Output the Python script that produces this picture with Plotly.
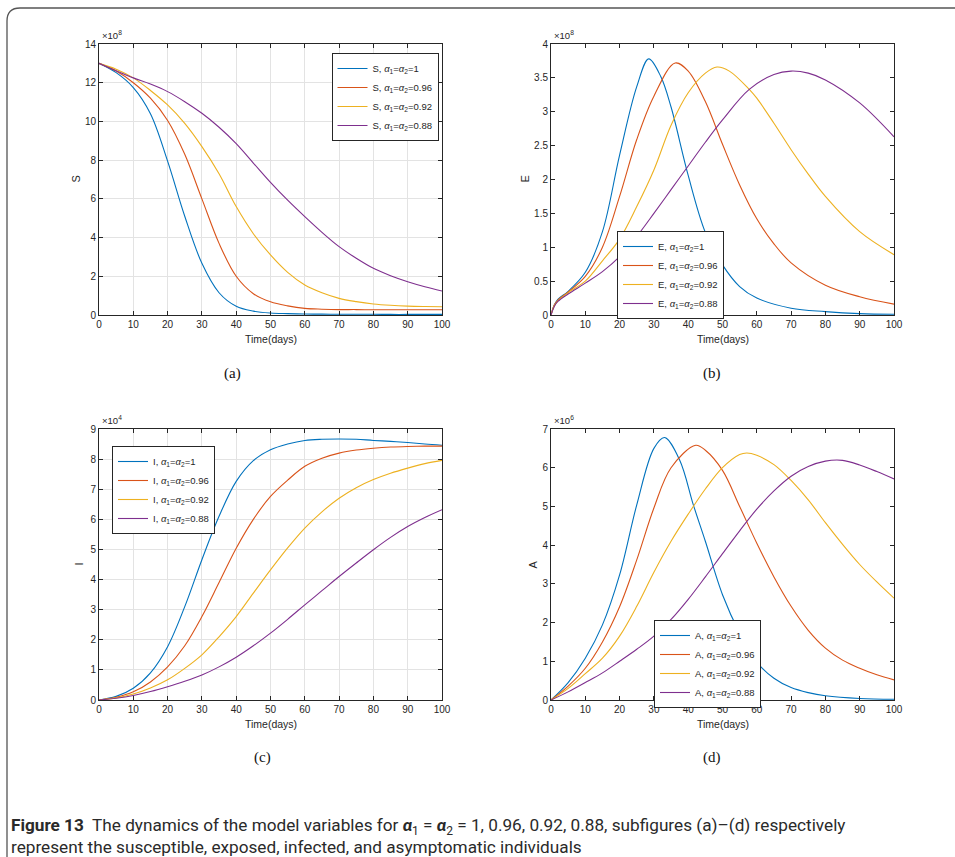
import plotly.graph_objects as go

W, H = 955, 857

# ---------------- data ----------------
LEVELS = ["1", "0.96", "0.92", "0.88"]
COLORS = ["#0072BD", "#D95319", "#EDB120", "#7E2F8E"]

# (a) Susceptible, x1e8
T_S = [0, 5, 10, 15, 20, 25, 30, 35, 40, 45, 50, 55, 60, 65, 70, 75, 80, 85, 90, 95, 100]
S_1 = [13, 12.52, 11.75, 10.4, 7.95, 5.1, 2.67, 1.15, 0.45, 0.2, 0.1, 0.07, 0.05, 0.045, 0.04, 0.04, 0.035, 0.03, 0.03, 0.03, 0.03]
S_2 = [13, 12.6, 12.0, 11.2, 10.05, 8.3, 6.0, 3.7, 2.0, 1.1, 0.68, 0.47, 0.34, 0.3, 0.28, 0.28, 0.27, 0.27, 0.27, 0.27, 0.27]
S_3 = [13, 12.7, 12.25, 11.6, 10.85, 9.9, 8.7, 7.3, 5.6, 4.2, 3.1, 2.2, 1.55, 1.15, 0.86, 0.69, 0.57, 0.5, 0.46, 0.44, 0.43]
S_4 = [13, 12.62, 12.25, 11.93, 11.54, 11.02, 10.42, 9.7, 8.85, 7.85, 6.85, 5.93, 5.08, 4.27, 3.53, 2.93, 2.41, 2.03, 1.72, 1.46, 1.24]

# (b) Exposed, x1e8
E_T1 = [0, 1, 2, 5, 10, 15, 20, 25, 28.5, 32, 35, 40, 45, 50, 55, 60, 70, 80, 90, 100]
E_1 = [0, 0.15, 0.23, 0.35, 0.63, 1.23, 2.36, 3.37, 3.78, 3.52, 3.07, 2.06, 1.22, 0.74, 0.42, 0.25, 0.1, 0.05, 0.02, 0.01]
E_T2 = [0, 1, 2, 5, 10, 15, 20, 25, 30, 36.2, 40, 45, 50, 55, 60, 65, 70, 80, 90, 100]
E_2 = [0, 0.15, 0.22, 0.34, 0.57, 1.0, 1.75, 2.59, 3.23, 3.72, 3.6, 3.15, 2.52, 1.92, 1.42, 1.05, 0.77, 0.44, 0.27, 0.16]
E_T3 = [0, 1, 2, 5, 10, 15, 20, 25, 30, 35, 40, 45, 48.4, 52, 57.8, 60, 65, 70, 75, 80, 90, 100]
E_3 = [0, 0.14, 0.21, 0.33, 0.5, 0.8, 1.12, 1.6, 2.14, 2.8, 3.28, 3.57, 3.66, 3.6, 3.33, 3.2, 2.83, 2.44, 2.08, 1.75, 1.23, 0.89]
E_T4 = [0, 1, 2, 5, 10, 15, 20, 25, 30, 35, 40, 45, 50, 57.8, 65, 70, 75, 80, 90, 100]
E_4 = [0, 0.13, 0.2, 0.31, 0.47, 0.64, 0.86, 1.16, 1.5, 1.85, 2.2, 2.55, 2.88, 3.33, 3.55, 3.6, 3.57, 3.47, 3.13, 2.63]

# (c) Infected, x1e4
T_I = [0, 5, 10, 15, 20, 25, 30, 35, 40, 45, 50, 55, 60, 65, 70, 75, 80, 85, 90, 95, 100]
I_1 = [0, 0.12, 0.39, 0.9, 1.77, 3.1, 4.66, 6.1, 7.26, 7.95, 8.31, 8.5, 8.62, 8.66, 8.67, 8.66, 8.62, 8.59, 8.55, 8.5, 8.46]
I_2 = [0, 0.09, 0.27, 0.6, 1.1, 1.8, 2.77, 3.9, 5.04, 6.0, 6.76, 7.3, 7.76, 8.03, 8.2, 8.3, 8.36, 8.4, 8.42, 8.43, 8.43]
I_3 = [0, 0.07, 0.2, 0.4, 0.67, 1.05, 1.5, 2.1, 2.77, 3.55, 4.32, 5.05, 5.71, 6.25, 6.7, 7.05, 7.32, 7.53, 7.7, 7.85, 7.96]
I_4 = [0, 0.06, 0.15, 0.28, 0.44, 0.62, 0.83, 1.1, 1.42, 1.8, 2.22, 2.68, 3.16, 3.63, 4.1, 4.55, 4.99, 5.4, 5.76, 6.06, 6.32]

# (d) Asymptomatic, x1e6
A_T1 = [0, 5, 10, 15, 20, 25, 30, 33.1, 37.5, 41.5, 45, 50, 55, 60, 65, 70, 75, 80, 90, 100]
A_1 = [0, 0.45, 1.08, 1.94, 3.23, 5.04, 6.5, 6.78, 6.2, 5.04, 4.1, 2.72, 1.73, 0.98, 0.56, 0.32, 0.19, 0.11, 0.04, 0.02]
A_T2 = [0, 5, 10, 15, 20, 25, 30, 35, 42.2, 45, 50, 55, 60, 65, 70, 75, 80, 85, 90, 95, 100]
A_2 = [0, 0.36, 0.82, 1.5, 2.41, 3.62, 4.96, 6.0, 6.58, 6.45, 5.93, 5.0, 4.05, 3.18, 2.42, 1.8, 1.34, 1.03, 0.82, 0.65, 0.52]
A_T3 = [0, 5, 10, 15, 20, 25, 30, 35, 40, 45, 50, 55, 57.1, 60, 65, 70, 75, 80, 85, 90, 95, 100]
A_3 = [0, 0.3, 0.68, 1.08, 1.65, 2.42, 3.3, 4.1, 4.8, 5.45, 6.0, 6.34, 6.38, 6.32, 6.08, 5.67, 5.17, 4.58, 4.02, 3.5, 3.05, 2.63]
A_T4 = [0, 5, 10, 15, 20, 25, 30, 35, 40, 45, 50, 55, 60, 65, 70, 75, 80, 85, 90, 95, 100]
A_4 = [0, 0.21, 0.45, 0.7, 1.0, 1.31, 1.65, 2.08, 2.6, 3.18, 3.78, 4.37, 4.93, 5.4, 5.78, 6.03, 6.17, 6.19, 6.07, 5.9, 5.71]

X_TICKS = list(range(0, 101, 10))

# ---------------- helpers (pixel -> paper) ----------------
def px(x):
    return x / W

def py(y):
    return 1 - y / H

FONT = "Liberation Sans, Arial, Helvetica, sans-serif"
INK = "#262626"

panels = [
    dict(key="", var="S", xd=(99, 442), yd=(44, 315), ymax=14, dtick=2, grid=True,
         leg=(331.5, 53), exp="8", lab="(a)", labpos=(232, 373), ylab=75,
         series=[(T_S, S_1), (T_S, S_2), (T_S, S_3), (T_S, S_4)]),
    dict(key="2", var="E", xd=(551, 894), yd=(44, 315), ymax=4, dtick=0.5, grid=False,
         leg=(617, 231), exp="8", lab="(b)", labpos=(712, 373), ylab=524,
         series=[(E_T1, E_1), (E_T2, E_2), (E_T3, E_3), (E_T4, E_4)]),
    dict(key="3", var="I", xd=(99, 442), yd=(429, 700), ymax=9, dtick=1, grid=True,
         leg=(112, 446), exp="4", lab="(c)", labpos=(262, 757), ylab=78,
         series=[(T_I, I_1), (T_I, I_2), (T_I, I_3), (T_I, I_4)]),
    dict(key="4", var="A", xd=(551, 894), yd=(429, 700), ymax=7, dtick=1, grid=False,
         leg=(654, 620), exp="6", lab="(d)", labpos=(712, 757), ylab=532,
         series=[(A_T1, A_1), (A_T2, A_2), (A_T3, A_3), (A_T4, A_4)]),
]

fig = go.Figure()
layout = dict(
    width=W, height=H, margin=dict(l=0, r=0, t=0, b=0, autoexpand=False),
    paper_bgcolor="white", plot_bgcolor="white",
    font=dict(family=FONT, color=INK, size=10),
    annotations=[], shapes=[],
)

for p in panels:
    k = p["key"]
    legname = "legend" + k
    for i, (tt, vv) in enumerate(p["series"]):
        name = f"{p['var']}, <i>α</i><sub>1</sub>=<i>α</i><sub>2</sub>={LEVELS[i]}"
        fig.add_trace(go.Scatter(
            x=tt, y=vv, mode="lines", name=name,
            line=dict(color=COLORS[i], width=1.1, shape="spline", smoothing=1.0),
            xaxis="x" + k, yaxis="y" + k, legend=legname,
        ))
    axis_common = dict(
        showline=True, linecolor=INK, linewidth=1, mirror="allticks",
        ticks="inside", ticklen=4, tickwidth=1, tickcolor=INK,
        zeroline=False, showgrid=p["grid"], gridcolor="#e3e3e3", gridwidth=1,
        tickfont=dict(family=FONT, size=10, color=INK),
    )
    layout["xaxis" + k] = dict(
        axis_common, domain=[px(p["xd"][0]), px(p["xd"][1])], anchor="y" + k,
        range=[0, 100], tickvals=X_TICKS, ticktext=[str(v) for v in X_TICKS],
    )
    ytv = []
    v = 0.0
    while v <= p["ymax"] + 1e-9:
        ytv.append(round(v, 2))
        v += p["dtick"]
    layout["yaxis" + k] = dict(
        axis_common, domain=[py(p["yd"][1]), py(p["yd"][0])], anchor="x" + k,
        range=[0, p["ymax"]], tickvals=ytv,
        ticktext=[("%g" % t) for t in ytv],
    )
    layout[legname] = dict(
        x=px(p["leg"][0]), y=py(p["leg"][1]), xanchor="left", yanchor="top",
        xref="paper", yref="paper",
        bgcolor="white", bordercolor=INK, borderwidth=1,
        font=dict(family=FONT, size=9.5, color=INK),
        itemwidth=30, tracegroupgap=0,
    )
    x0, x1 = p["xd"]
    y0, y1 = p["yd"]
    layout["annotations"].append(dict(
        x=px(x0 + 1), y=py(y0 - 1), xref="paper", yref="paper",
        xanchor="left", yanchor="bottom", showarrow=False,
        text=f"×10<sup>{p['exp']}</sup>", font=dict(family=FONT, size=9.5, color=INK),
    ))
    layout["annotations"].append(dict(
        x=px(p["ylab"]), y=py((y0 + y1) / 2), xref="paper", yref="paper",
        xanchor="center", yanchor="middle", showarrow=False, textangle=-90,
        text=p["var"], font=dict(family=FONT, size=11, color=INK),
    ))
    layout["annotations"].append(dict(
        x=px((x0 + x1) / 2), y=py(y1 + 24), xref="paper", yref="paper",
        xanchor="center", yanchor="middle", showarrow=False,
        text="Time(days)", font=dict(family=FONT, size=10.5, color=INK),
    ))
    layout["annotations"].append(dict(
        x=px(p["labpos"][0]), y=py(p["labpos"][1]), xref="paper", yref="paper",
        xanchor="center", yanchor="middle", showarrow=False,
        text=p["lab"], font=dict(family="Liberation Serif, DejaVu Serif, serif", size=15, color="#111"),
    ))

# caption
CAP_FONT = "Roboto, Noto Sans, sans-serif"
layout["annotations"].append(dict(
    x=px(9), y=py(826), xref="paper", yref="paper", xanchor="left", yanchor="middle",
    showarrow=False, align="left",
    text=("<b>Figure 13</b>  The dynamics of the model variables for "
          "<b><i>α</i></b><sub>1</sub> = <b><i>α</i></b><sub>2</sub> = 1, 0.96, 0.92, 0.88, "
          "subfigures (a)–(d) respectively"),
    font=dict(family=CAP_FONT, size=17.2, color="#2a2a2a"),
))
layout["annotations"].append(dict(
    x=px(9), y=py(847), xref="paper", yref="paper", xanchor="left", yanchor="middle",
    showarrow=False, align="left",
    text="represent the susceptible, exposed, infected, and asymptomatic individuals",
    font=dict(family=CAP_FONT, size=17.2, color="#2a2a2a"),
))

# outer rounded frame
r = 13
layout["shapes"].append(dict(
    type="path", xref="paper", yref="paper",
    path=(f"M {px(7)},{py(880)} L {px(7)},{py(8 + r)} "
          f"Q {px(7)},{py(8)} {px(7 + r)},{py(8)} L {px(970)},{py(8)}"),
    line=dict(color="#555", width=1.3),
))

fig.update_layout(**layout)
fig.write_html(
    "out.html",
    config={"displayModeBar": False},
    post_script="document.body.style.margin='0';document.body.style.padding='0';document.body.style.overflow='hidden';",
)
